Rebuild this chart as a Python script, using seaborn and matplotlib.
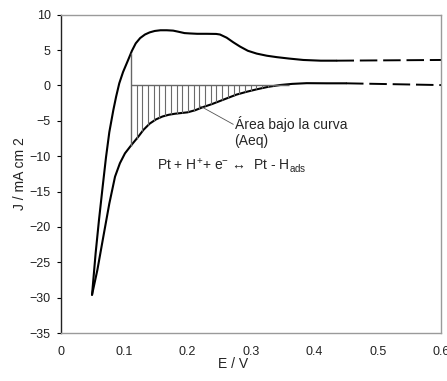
import numpy as np
import pandas as pd
import matplotlib
matplotlib.use("Agg")
import matplotlib.pyplot as plt
import seaborn as sns

# ---- data ----
upper_E = [0.049, 0.052, 0.0547, 0.060, 0.0658, 0.071, 0.0763, 0.0826, 0.087, 0.092,
           0.098, 0.106, 0.112, 0.118, 0.125, 0.1326, 0.14, 0.148, 0.157, 0.167,
           0.177, 0.185, 0.195, 0.2037, 0.215, 0.23, 0.245, 0.251, 0.2616, 0.272,
           0.2826, 0.295, 0.309, 0.325, 0.3406, 0.36, 0.3826, 0.41, 0.435]
upper_J = [-29.6, -26.5, -23.7, -19.0, -14.3, -10.2, -6.6, -3.5, -1.6, 0.3,
           1.9, 3.6, 4.9, 5.95, 6.7, 7.2, 7.5, 7.7, 7.8, 7.8,
           7.75, 7.6, 7.4, 7.35, 7.3, 7.3, 7.28, 7.2, 6.75, 6.1,
           5.5, 4.9, 4.5, 4.2, 4.0, 3.8, 3.6, 3.5, 3.5]
upper_tail_E = [0.435, 0.6]
upper_tail_J = [3.5, 3.6]

lower_E = [0.049, 0.0574, 0.0668, 0.0763, 0.0853, 0.093, 0.101, 0.1105, 0.122, 0.13,
           0.14, 0.15, 0.16, 0.17, 0.18, 0.19, 0.2, 0.212, 0.2247, 0.238,
           0.251, 0.264, 0.277, 0.293, 0.309, 0.327, 0.346, 0.365, 0.388, 0.42, 0.45]
lower_J = [-29.6, -26.1, -21.4, -16.7, -12.9, -11.0, -9.6, -8.5, -7.25, -6.3,
           -5.4, -4.8, -4.4, -4.15, -4.0, -3.9, -3.8, -3.5, -3.05, -2.65,
           -2.2, -1.75, -1.3, -0.9, -0.55, -0.2, 0.06, 0.22, 0.32, 0.3, 0.3]
lower_tail_E = [0.45, 0.6]
lower_tail_J = [0.3, 0.05]

hatch_start = 0.1105
hatch_end = 0.345
hatch_step = 0.009

x_ticks = [0, 0.1, 0.2, 0.3, 0.4, 0.5, 0.6]
x_ticklabels = ["0", "0.1", "0.2", "0.3", "0.4", "0.5", "0.6"]
y_ticks = [10, 5, 0, -5, -10, -15, -20, -25, -30, -35]

sns.set_style("white")
plt.rcParams['font.family'] = ['Liberation Sans', 'DejaVu Sans']
plt.rcParams['mathtext.fontset'] = 'custom'
plt.rcParams['mathtext.rm'] = 'Liberation Sans'
plt.rcParams['mathtext.it'] = 'Liberation Sans:italic'

fig = plt.figure(figsize=(4.47, 3.81), dpi=100)
ax = fig.add_axes([61/447, 1-333/381, (441-61)/447, (333-14.7)/381])

up = pd.DataFrame({"E": upper_E, "J": upper_J})
lo = pd.DataFrame({"E": lower_E, "J": lower_J})
sns.lineplot(data=up, x="E", y="J", sort=False, color="black", lw=1.5, ax=ax)
sns.lineplot(data=lo, x="E", y="J", sort=False, color="black", lw=1.5, ax=ax)
sns.lineplot(x=upper_tail_E, y=upper_tail_J, color="black", lw=1.4, ls=(0, (9, 3)), ax=ax)
sns.lineplot(x=lower_tail_E, y=lower_tail_J, color="black", lw=1.4, ls=(0, (9, 3)), ax=ax)

# hatched area under the cathodic curve
hx = np.arange(hatch_start + hatch_step, hatch_end, hatch_step)
hy = np.interp(hx, lower_E, lower_J)
ax.vlines(hx, hy, 0, color="#6a6a6a", lw=0.8)
ax.vlines(hatch_start, np.interp(hatch_start, lower_E, lower_J),
          np.interp(hatch_start, upper_E, upper_J), color="#666666", lw=1.0)
ax.hlines(0, hatch_start, 0.36, color="#666666", lw=1.0)

# annotation
ax.plot([0.2195, 0.272], [-2.9, -5.5], color="#555555", lw=0.6)
ax.text(0.274, -5.4, "Área bajo la curva", fontsize=10, ha="left", va="center")
ax.text(0.274, -7.8, "(Aeq)", fontsize=10, ha="left", va="center")
ax.text(0.152, -11.3, r"Pt + H$^{+}$+ e$^{-}$ ↔  Pt - H$_{\mathrm{ads}}$",
        fontsize=10, ha="left", va="center")

ax.set_xlim(0, 0.6)
ax.set_ylim(-35, 10)
ax.set_xticks(x_ticks)
ax.set_xticklabels(x_ticklabels)
ax.set_yticks(y_ticks)
ax.tick_params(axis="x", length=0, pad=9.5, labelsize=9, colors="#222222")
ax.tick_params(axis="y", length=3, width=0.8, direction="out", pad=4.5, labelsize=9,
               color="black", labelcolor="#222222")
ax.yaxis.set_ticks_position("left")

for s in ["top", "right", "bottom"]:
    ax.spines[s].set_color("#9a9a9a")
    ax.spines[s].set_linewidth(1.0)
ax.spines["left"].set_color("#222222")
ax.spines["left"].set_linewidth(1.0)

ax.set_xlabel("E / V", fontsize=10, color="#222222")
ax.xaxis.set_label_coords((233 - 61) / 380, -(357 - 333) / 318.3)
ax.set_ylabel("J / mA cm 2", fontsize=10, labelpad=1.5, color="#222222")

fig.savefig("out.png", dpi=100)
